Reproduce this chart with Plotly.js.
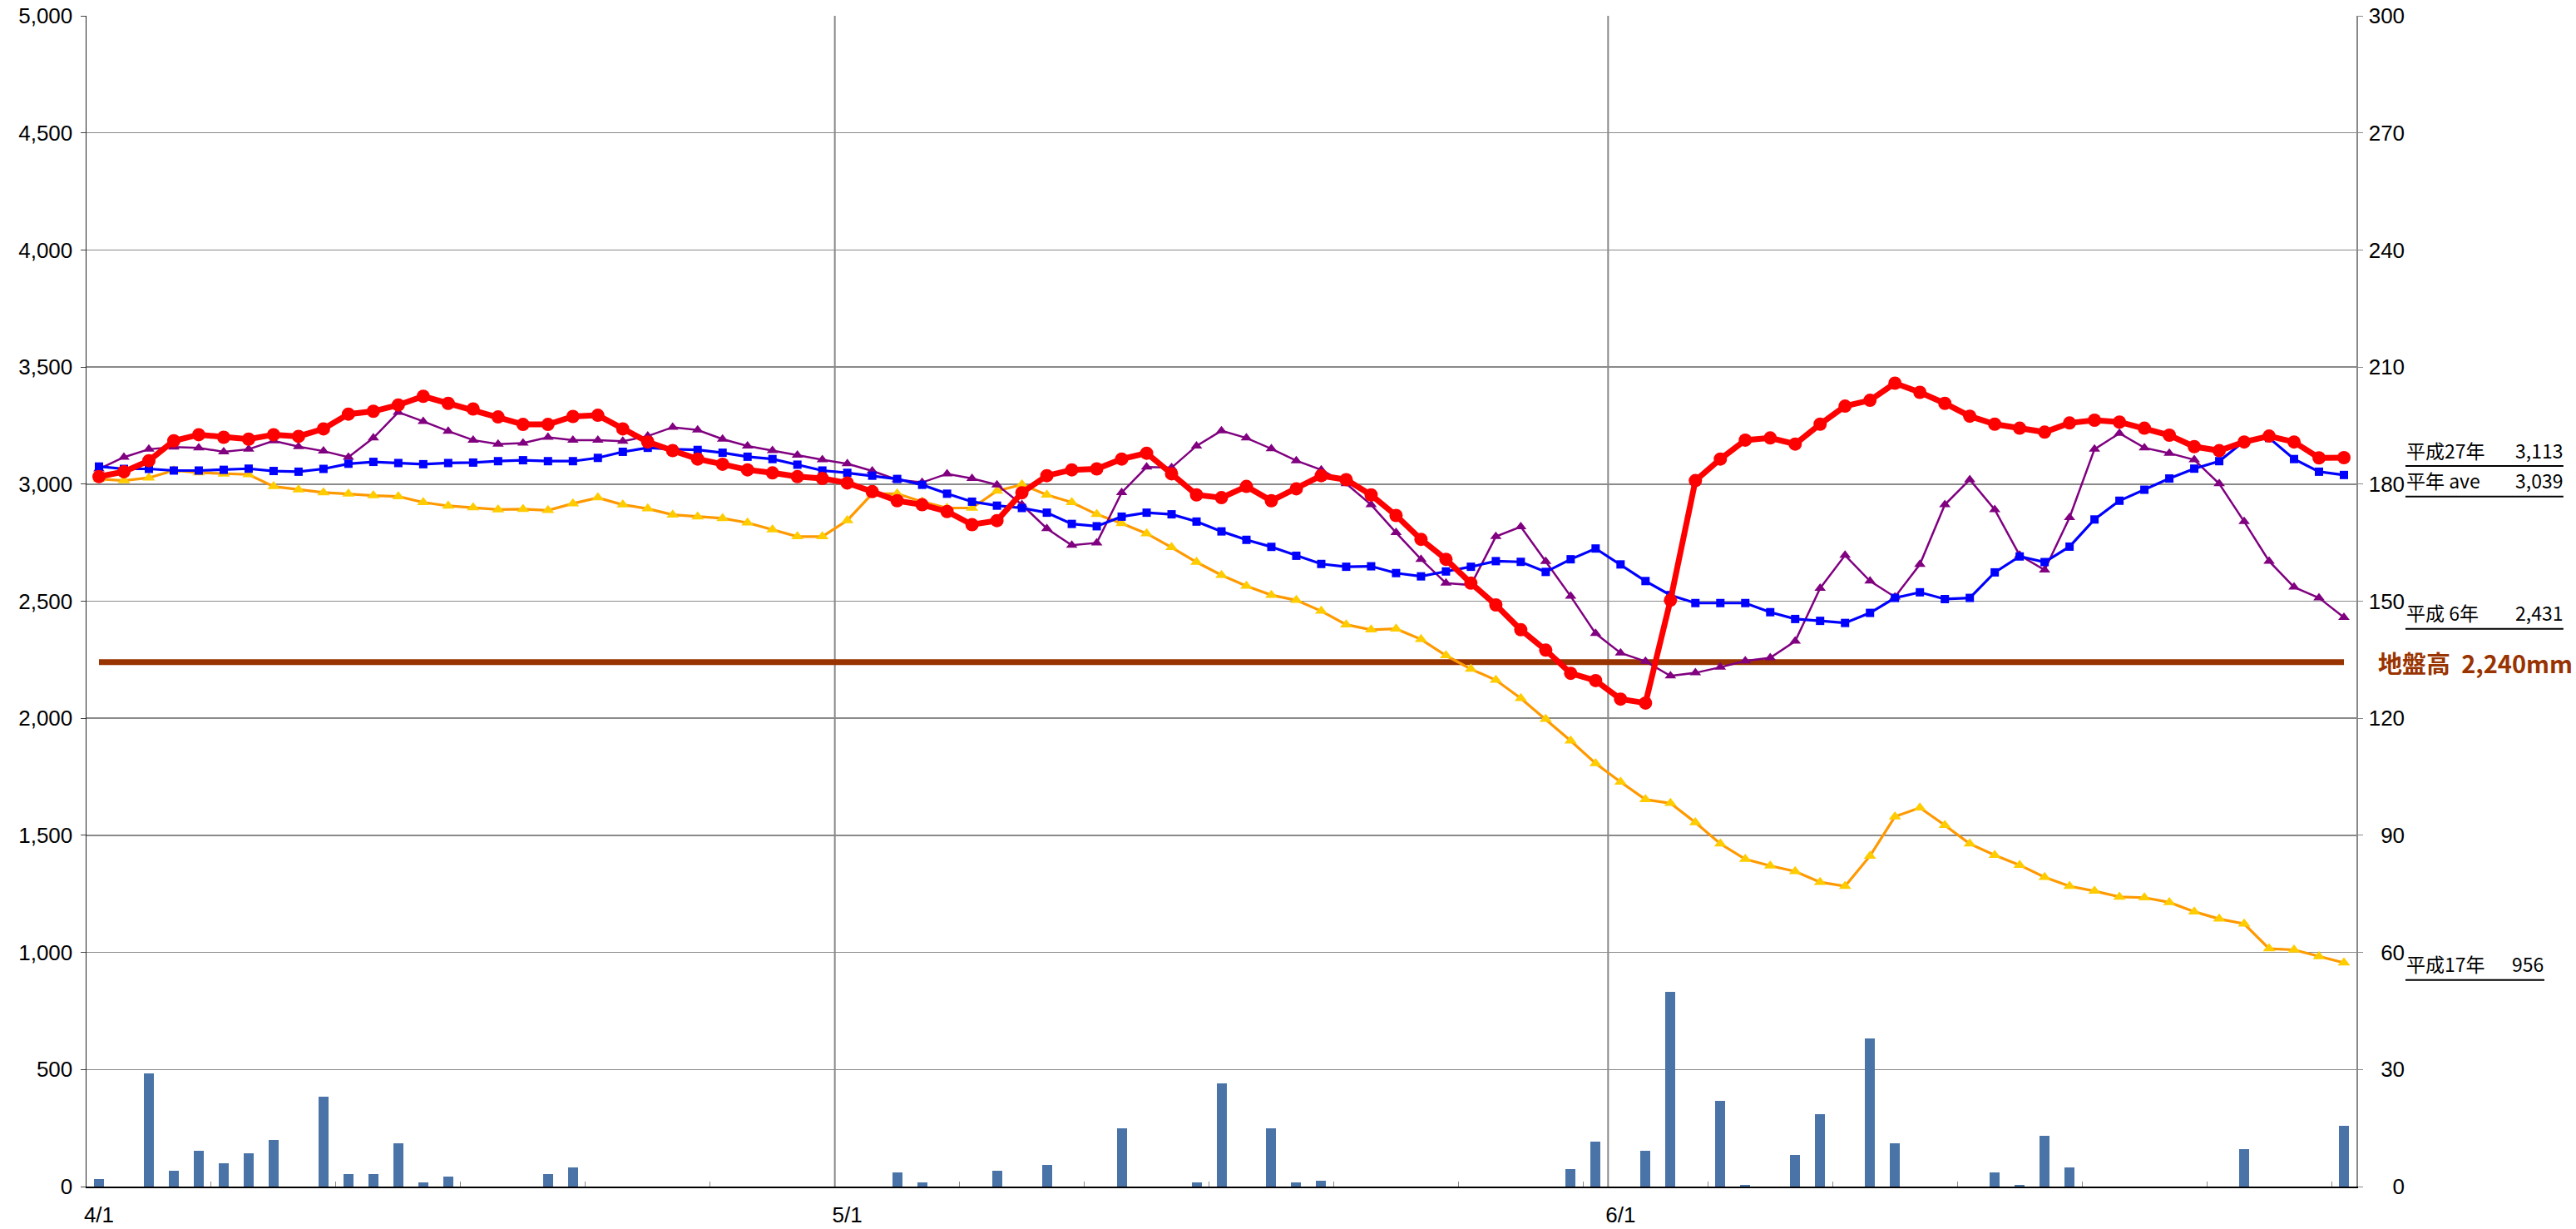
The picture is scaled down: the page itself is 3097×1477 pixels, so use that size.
<!DOCTYPE html>
<html><head><meta charset="utf-8">
<script src="https://cdn.plot.ly/plotly-3.0.1.min.js"></script>
<style>html,body{margin:0;padding:0;background:#fff;} #chart{width:3097px;height:1477px;}</style>
</head><body><div id="chart"></div>
<script>
// ---- categories: 4/1 .. 6/30
const monthDays = [[4, 30], [5, 31], [6, 30]];
const dates = [];
monthDays.forEach(([m, n]) => { for (let d = 1; d <= n; d++) dates.push(m + '/' + d); });
const labelDates = ['4/1', '5/1', '6/1'];

// ---- series (water level, mm)
const seriesNames = ['平成27年', '平年 ave', '平成 6年', '平成17年'];
const h27 = [3032,3053,3100,3185,3211,3200,3192,3211,3204,3236,3299,3311,3338,3375,3345,3321,3287,3255,3255,3289,3294,3236,3180,3143,3107,3085,3061,3048,3032,3024,
  3005,2968,2929,2912,2883,2827,2844,2963,3036,3061,3065,3107,3132,3044,2954,2942,2990,2929,2980,3036,3019,2954,2866,2764,2679,2577,2484,2378,2291,2192,2161,2082,2065,
  2504,3015,3107,3188,3197,3171,3256,3333,3358,3431,3392,3345,3290,3256,3239,3222,3261,3273,3265,3239,3209,3160,3143,3180,3205,3180,3112,3113];
const aveY = [3075,3065,3065,3058,3058,3061,3066,3056,3053,3065,3087,3095,3090,3085,3090,3092,3098,3102,3098,3098,3112,3138,3155,3149,3146,3134,3117,3107,3083,3058,
  3048,3036,3022,2997,2959,2925,2908,2898,2878,2830,2820,2861,2878,2871,2840,2798,2762,2732,2694,2659,2647,2649,2620,2606,2627,2647,2671,2668,2625,2679,2725,2657,2586,
  2526,2492,2492,2492,2453,2424,2416,2407,2450,2514,2538,2509,2514,2623,2691,2667,2733,2849,2929,2976,3024,3066,3098,3183,3197,3107,3053,3039];
const h6 = [3065,3115,3149,3158,3155,3138,3149,3185,3160,3141,3115,3197,3307,3268,3226,3188,3171,3175,3200,3188,3188,3183,3205,3243,3231,3192,3163,3143,3124,3104,
  3087,3056,3019,3007,3044,3024,2997,2912,2810,2739,2749,2964,3073,3070,3163,3228,3197,3151,3100,3061,3002,2912,2793,2679,2577,2569,2776,2818,2670,2521,2362,2279,2243,
  2181,2194,2218,2245,2258,2329,2555,2696,2586,2518,2657,2912,3019,2891,2696,2633,2857,3149,3217,3155,3132,3104,3002,2840,2671,2560,2514,2431];
const h17 = [3022,3015,3027,3058,3049,3044,3041,2990,2976,2964,2958,2951,2947,2922,2907,2900,2891,2893,2888,2917,2942,2912,2895,2869,2861,2854,2835,2806,2776,2776,
  2845,2959,2959,2925,2898,2898,2971,2998,2954,2922,2871,2832,2789,2730,2667,2611,2565,2526,2504,2458,2400,2378,2382,2337,2268,2210,2163,2085,1996,1904,1807,1728,1653,
  1637,1555,1464,1398,1370,1346,1300,1283,1412,1580,1618,1543,1464,1415,1373,1321,1283,1262,1237,1234,1214,1174,1143,1122,1016,1011,983,956];
// ---- rainfall (mm, right axis)
const rain = [1.9,0,28.9,4.0,9.1,6.0,8.5,12.0,0,23.0,
  3.1,3.1,11.0,1.1,2.6,0,0,0,3.1,5.0,
  0,0,0,0,0,0,0,0,0,0,
  0,0,3.6,1.1,0,0,4.0,0,5.5,0,
  0,15.0,0,0,1.1,26.5,0,15.0,1.1,1.6,
  0,0,0,0,0,0,0,0,0,4.5,
  11.5,0,9.1,50.0,0,21.9,0.5,0,8.0,18.5,
  0,38.0,11.0,0,0,0,3.6,0.5,13.0,5.0,
  0,0,0,0,0,0,9.5,0,0,0,15.5];
const groundLevel = 2240;
const leftTicks = [0,500,1000,1500,2000,2500,3000,3500,4000,4500,5000];
const rightTicks = [0,30,60,90,120,150,180,210,240,270,300];

const N = dates.length;
const xs = dates.map((d, i) => i);
const fmt = v => v.toLocaleString('en-US');
const FS = '\u2007';
const pad = (s, w) => FS.repeat(Math.max(0, w - s.length)) + s;

const lineDefs = [
  {y: h17, name: seriesNames[3], lc: '#ff9900', lw: 3.2, ms: 'triangle-up', sz: 13, mc: '#ffcc00'},
  {y: h6,  name: seriesNames[2], lc: '#800080', lw: 2.5, ms: 'triangle-up', sz: 12, mc: '#800080'},
  {y: aveY, name: seriesNames[1], lc: '#0000ff', lw: 3.2, ms: 'square', sz: 10, mc: '#0000ff'},
  {y: h27, name: seriesNames[0], lc: '#ff0000', lw: 7, ms: 'circle', sz: 16, mc: '#ff0000'}
];

const traces = [
  {type: 'bar', x: xs, y: rain, yaxis: 'y2', name: '雨量', marker: {color: '#4a74a8'}, width: 0.4, hoverinfo: 'skip'},
  {type: 'scatter', mode: 'lines', x: [0, N - 1], y: [groundLevel, groundLevel], name: '地盤高',
   line: {color: '#993300', width: 7}}
].concat(lineDefs.map(d => ({
  type: 'scatter', mode: 'lines+markers', x: xs, y: d.y, name: d.name,
  line: {color: d.lc, width: d.lw}, marker: {symbol: d.ms, size: d.sz, color: d.mc, line: {width: 0}}
})));

const minorVals = [];
for (let k = 5; k < N; k += 5) minorVals.push(k - 0.5);

const tickFont = {family: '"Liberation Sans", Arial, sans-serif', size: 26, color: '#000'};
const jpFont = {family: '"Noto Sans CJK JP", sans-serif', size: 23, color: '#000'};

// right side labels
const xL = 1.0216;
const rows = [
  {name: seriesNames[0], v: h27[N - 1], y: 0.6155, xr: 1.0912},
  {name: seriesNames[1], v: aveY[N - 1], y: 0.5894, xr: 1.0912},
  {name: seriesNames[2], v: h6[N - 1], y: 0.4764, xr: 1.0912},
  {name: seriesNames[3], v: h17[N - 1], y: 0.1765, xr: 1.0828}
];
const annotations = [];
const shapes = [];
rows.forEach(r => {
  annotations.push({xref: 'paper', yref: 'paper', x: xL, y: r.y + 0.001, xanchor: 'left', yanchor: 'bottom',
    text: r.name, showarrow: false, font: jpFont, borderpad: 0});
  annotations.push({xref: 'paper', yref: 'paper', x: r.xr, y: r.y + 0.001, xanchor: 'right', yanchor: 'bottom',
    text: fmt(r.v), showarrow: false, font: jpFont, borderpad: 0});
  shapes.push({type: 'line', xref: 'paper', yref: 'paper', x0: xL, x1: r.xr, y0: r.y, y1: r.y,
    line: {color: '#000', width: 2}});
});
annotations.push({xref: 'paper', yref: 'paper', x: 1.0088, y: 0.4478, xanchor: 'left', yanchor: 'middle',
  text: '<b>地盤高  ' + fmt(groundLevel) + 'mm</b>', showarrow: false,
  font: {family: '"Noto Sans CJK JP", sans-serif', size: 29, color: '#993300'}});

['5/1', '6/1'].forEach(d => {
  const p = dates.indexOf(d) - 0.5;
  shapes.push({type: 'line', xref: 'x', yref: 'paper', x0: p, x1: p, y0: 0, y1: 1, layer: 'below',
    line: {color: '#8a8a8a', width: 2}});
});

const layout = {
  width: 3097, height: 1477,
  margin: {l: 104, r: 264, t: 19, b: 51, pad: 0},
  paper_bgcolor: '#fff', plot_bgcolor: '#fff',
  showlegend: false,
  bargap: 0,
  xaxis: {
    range: [-0.5, N - 0.5], tickmode: 'array',
    tickvals: labelDates.map(d => dates.indexOf(d)), ticktext: labelDates,
    ticks: '', showgrid: false, zeroline: false,
    showline: true, linecolor: '#000', linewidth: 1.5,
    tickfont: tickFont, ticklabelstandoff: 10,
    minor: {tickmode: 'array', tickvals: minorVals, ticks: 'inside', ticklen: 6, tickcolor: '#888', tickwidth: 1, showgrid: false}
  },
  yaxis: {
    range: [0, 5000], tickmode: 'array', tickvals: leftTicks, ticktext: leftTicks.map(fmt),
    showgrid: true, gridcolor: '#8a8a8a', gridwidth: 1.5, zeroline: false,
    showline: true, linecolor: '#222', linewidth: 1.5,
    ticks: 'outside', ticklen: 6, tickcolor: '#444', tickfont: tickFont, ticklabelstandoff: 4
  },
  yaxis2: {
    overlaying: 'y', side: 'right', range: [0, 300], tickmode: 'array', tickvals: rightTicks,
    ticktext: rightTicks.map(v => pad(String(v), 3)),
    showgrid: false, zeroline: false, showline: true, linecolor: '#888', linewidth: 1.5,
    ticks: 'outside', ticklen: 6, tickcolor: '#888', tickfont: tickFont, ticklabelstandoff: 2
  },
  annotations: annotations,
  shapes: shapes
};

Plotly.newPlot('chart', traces, layout, {staticPlot: true, displayModeBar: false});
</script></body></html>
